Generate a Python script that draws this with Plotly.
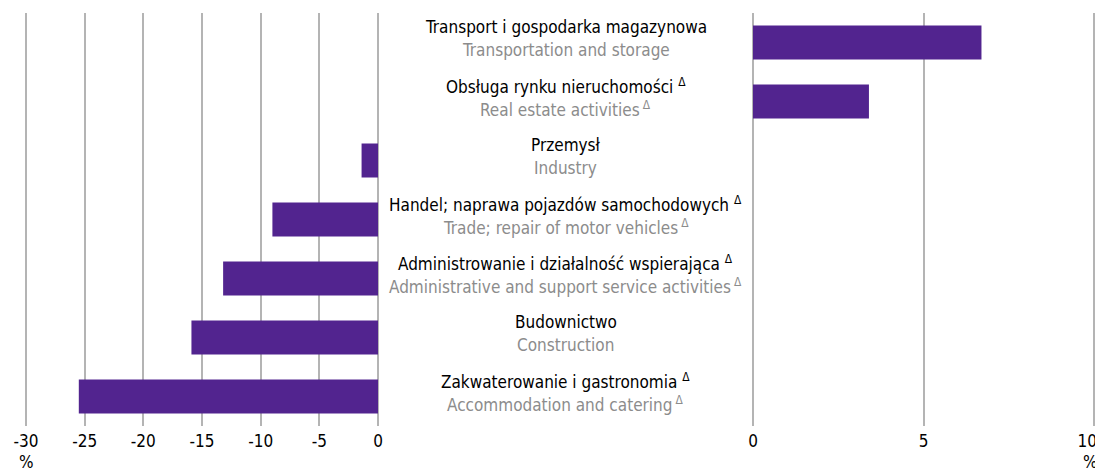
import plotly.graph_objects as go

categories_pl = [
    "Transport i gospodarka magazynowa",
    "Obsługa rynku nieruchomości <sup>Δ</sup>",
    "Przemysł",
    "Handel; naprawa pojazdów samochodowych <sup>Δ</sup>",
    "Administrowanie i działalność wspierająca <sup>Δ</sup>",
    "Budownictwo",
    "Zakwaterowanie i gastronomia <sup>Δ</sup>",
]
categories_en = [
    "Transportation and storage",
    "Real estate activities\u2009<sup>Δ</sup>",
    "Industry",
    "Trade; repair of motor vehicles\u2009<sup>Δ</sup>",
    "Administrative and support service activities\u2009<sup>Δ</sup>",
    "Construction",
    "Accommodation and catering\u2009<sup>Δ</sup>",
]
values = [6.7, 3.4, -1.4, -9.0, -13.2, -15.9, -25.5]
left_ticks = [-30, -25, -20, -15, -10, -5, 0]
right_ticks = [0, 5, 10]

FONT = "DejaVu Sans Condensed, Liberation Sans Narrow, sans-serif"
BAR = "#52248f"
GRID = "#b4b4b4"

# The page body has an 8px margin: work in figure pixels = page pixels - 8
OFF = 8
W, H = 1103, 465

ids = list(range(len(categories_pl)))
neg_values = [v if v < 0 else None for v in values]
pos_values = [v if v > 0 else None for v in values]

fig = go.Figure()
fig.add_trace(go.Bar(x=neg_values, y=ids, orientation="h", marker_color=BAR,
                     xaxis="x", yaxis="y", showlegend=False, hoverinfo="x"))
fig.add_trace(go.Bar(x=pos_values, y=ids, orientation="h", marker_color=BAR,
                     xaxis="x2", yaxis="y", showlegend=False, hoverinfo="x"))

# left axis: -30 at page x=26, 0 at page x=378 ; pad range so edge gridlines show
sL = (378 - 26) / 30.0
pL = 0.5
L0 = (26 - pL * sL - OFF) / W
L1 = (378 + pL * sL - OFF) / W
# right axis: 0 at page x=753, 10 at page x=1094
sR = (1094 - 753) / 10.0
pR = 0.2
R0 = (753 - pR * sR - OFF) / W
R1 = (1094 + pR * sR - OFF) / W

axis_common = dict(showgrid=True, gridcolor=GRID, gridwidth=1.5, zeroline=False,
                   showline=False, ticks="", automargin=False, ticklabelstandoff=3,
                   tickfont=dict(family=FONT, size=17, color="#000"),
                   fixedrange=True)

top = 13 - OFF
bottom = 426 - OFF
fig.update_layout(
    template="none",
    width=W, height=H,
    margin=dict(l=0, r=0, t=top, b=H - bottom, autoexpand=False),
    paper_bgcolor="white", plot_bgcolor="white",
    bargap=0.42,
    font=dict(family=FONT),
    xaxis=dict(domain=[L0, L1], range=[-30 - pL, 0 + pL], tickvals=left_ticks,
               ticktext=[str(t) for t in left_ticks], **axis_common),
    xaxis2=dict(domain=[R0, R1], range=[0 - pR, 10 + pR], tickvals=right_ticks,
                ticktext=[str(t) if t != right_ticks[-1] else "" for t in right_ticks],
                **axis_common),
    # overlay axis only for the last right-hand tick label, kept inside the page edge
    xaxis3=dict(domain=[R0, R1], range=[0 - pR, 10 + pR], overlaying="x2", anchor="y",
                tickvals=[right_ticks[-1]], ticktext=[str(right_ticks[-1])],
                ticklabelposition="outside left", ticklabelshift=3,
                showgrid=False, zeroline=False, showline=False, ticks="",
                automargin=False, ticklabelstandoff=3,
                tickfont=dict(family=FONT, size=17, color="#000"), fixedrange=True),
    yaxis=dict(range=[len(ids) - 0.5, -0.5], showticklabels=False, showgrid=False,
               zeroline=False, showline=False, fixedrange=True, automargin=False),
)
# invisible trace to activate xaxis3
fig.add_trace(go.Bar(x=[None], y=[None], xaxis="x3", yaxis="y", showlegend=False,
                     hoverinfo="skip"))

annotations = []
xc = ((378 + 753) / 2 - OFF) / W
for i, (pl, en) in enumerate(zip(categories_pl, categories_en)):
    annotations.append(dict(x=xc, xref="paper", y=i, yref="y", text=pl, showarrow=False,
                            xanchor="center", yanchor="middle", yshift=15.5,
                            font=dict(family=FONT, size=17, color="#000")))
    annotations.append(dict(x=xc, xref="paper", y=i, yref="y", text=en, showarrow=False,
                            xanchor="center", yanchor="middle", yshift=-7.5,
                            font=dict(family=FONT, size=17, color="#8c8c8c")))
pct_y = -(462 - 426) / (426 - 13)
annotations.append(dict(x=(26 - OFF) / W, xref="paper", y=pct_y, yref="paper",
                        xanchor="center", yanchor="middle",
                        text="%", showarrow=False, font=dict(family=FONT, size=17, color="#000")))
annotations.append(dict(x=(1090 - OFF) / W, xref="paper", y=pct_y, yref="paper",
                        xanchor="center", yanchor="middle",
                        text="%", showarrow=False, font=dict(family=FONT, size=17, color="#000")))
fig.update_layout(annotations=annotations)

fig.write_html("out.html")
